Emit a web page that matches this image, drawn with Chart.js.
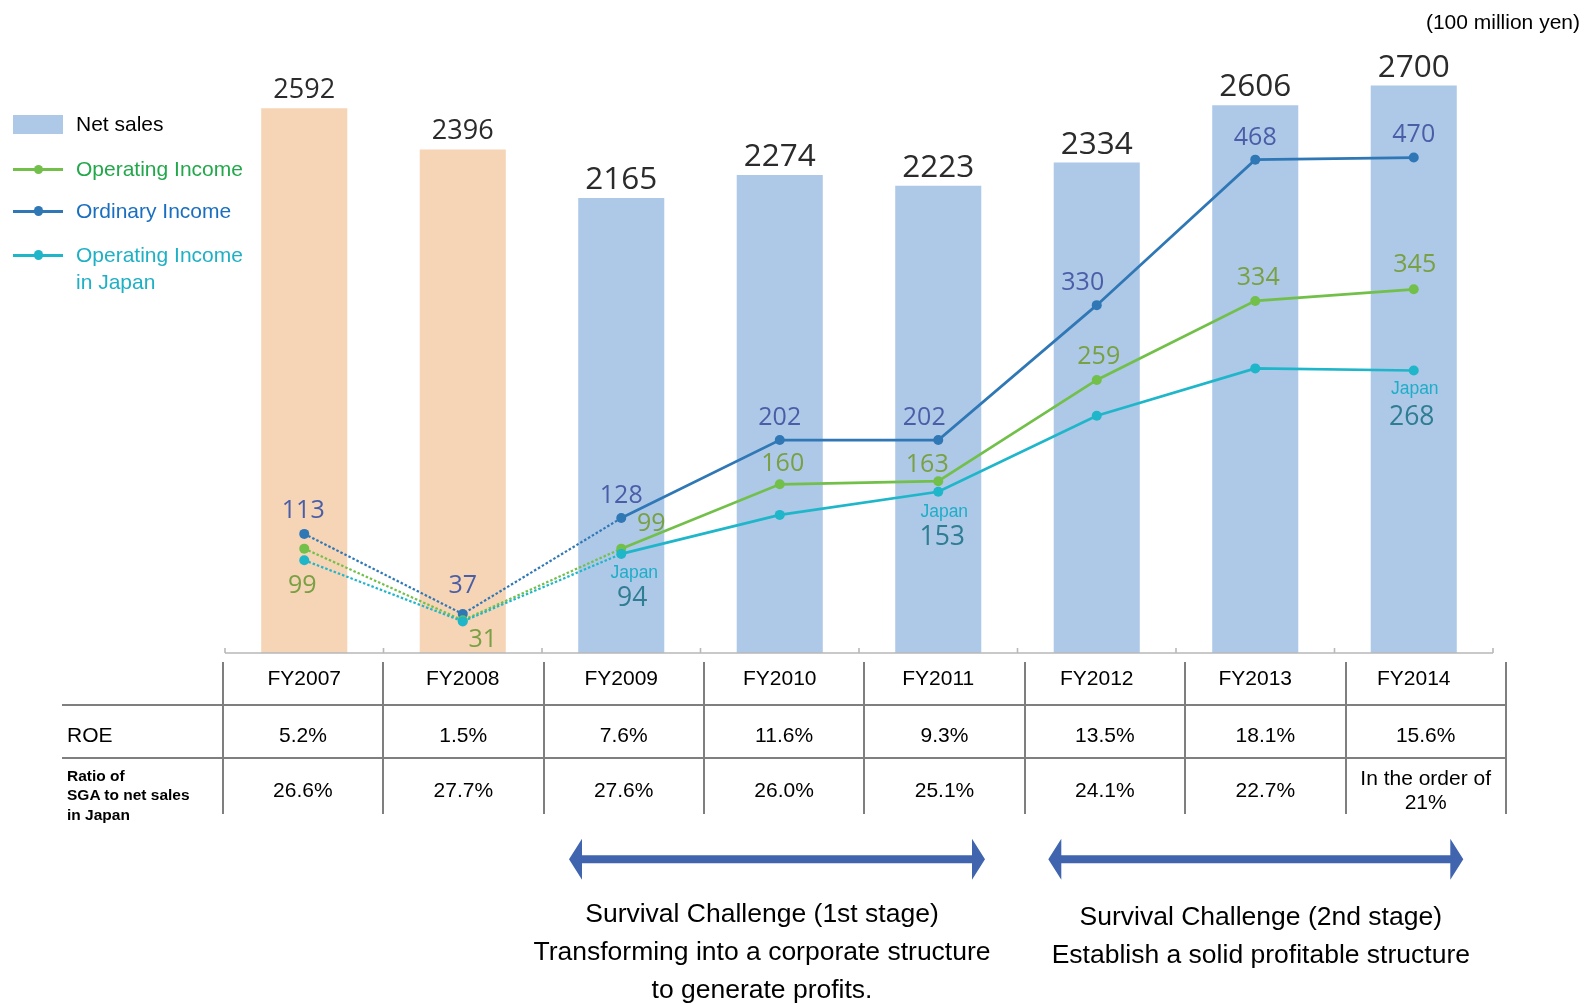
<!DOCTYPE html>
<html>
<head>
<meta charset="utf-8">
<title>Net sales and income</title>
<script src="https://cdn.jsdelivr.net/npm/chart.js@4.4.1/dist/chart.umd.min.js"></script>
<style>
  body { margin: 0; background: #fff; }
  #wrap { position: relative; width: 1585px; height: 1004px; overflow: hidden; font-family: "Liberation Sans", Arial, sans-serif; }
  #chart { position: absolute; left: 0; top: 0; }
  .txt { position: absolute; white-space: nowrap; line-height: 1; }
</style>
</head>
<body>
<div id="wrap">
  <canvas id="chart" width="1585" height="1004"></canvas>
  <svg id="arrows" width="1585" height="1004" style="position:absolute;left:0;top:0"></svg>
</div>
<script>
// data (100 million yen)
const years = ['FY2007', 'FY2008', 'FY2009', 'FY2010', 'FY2011', 'FY2012', 'FY2013', 'FY2014'];
const netSales = [2592, 2396, 2165, 2274, 2223, 2334, 2606, 2700];
const operatingIncome = [99, 31, 99, 160, 163, 259, 334, 345];
const ordinaryIncome = [113, 37, 128, 202, 202, 330, 468, 470];
const japanIncome = [88, 30, 94, 131, 153, 225, 270, 268];
const japanLabelled = [2, 4, 7];
const roe = ['5.2%', '1.5%', '7.6%', '11.6%', '9.3%', '13.5%', '18.1%', '15.6%'];
const sgaRatio = ['26.6%', '27.7%', '27.6%', '26.0%', '25.1%', '24.1%', '22.7%', 'In the order of|21%'];

// label offsets from the point, px
const ordOffsets = [[-1, -25], [0, -30], [0, -24], [0, -24], [-14, -24], [-14, -24], [0, -24], [0, -24]];
const opOffsets = [[-2, 35], [20, 18], [30, -27], [3, -22], [-11, -18], [2, -25], [3, -25], [1, -26]];
const japanWordOffsets = { 2: [13, 18], 4: [6, 19], 7: [1, 17] };
const japanValueOffsets = { 2: [11, 43], 4: [4, 44], 7: [-2, 45] };

const colBlue = '#aec8e8', colPeach = '#f6d4b6';
const colOrd = '#2f77b5', colOp = '#72c04a', colJp = '#1fb6c9';

const wrap = document.getElementById('wrap');

function addText(str, x, capY, size, opts = {}) {
    const d = document.createElement('div');
    d.className = 'txt';
    d.textContent = str;
    d.style.fontSize = size + 'px';
    d.style.top = (capY - 0.4885 * size) + 'px';
    d.style.color = opts.color || '#000';
    if (opts.bold) d.style.fontWeight = 'bold';
    if (opts.align === 'center') {
        d.style.left = x + 'px';
        d.style.transform = 'translateX(-50%)';
    } else if (opts.align === 'right') {
        d.style.right = (1585 - x) + 'px';
    } else {
        d.style.left = x + 'px';
    }
    wrap.appendChild(d);
}

function addBox(x, y, w, h, color, radius) {
    const d = document.createElement('div');
    d.style.position = 'absolute';
    d.style.left = x + 'px';
    d.style.top = y + 'px';
    d.style.width = w + 'px';
    d.style.height = h + 'px';
    d.style.background = color;
    if (radius) d.style.borderRadius = radius;
    wrap.appendChild(d);
}

// dotted for the FY2007-FY2009 segments
const dotted = {
    borderDash: ctx => ctx.p1DataIndex <= 2 ? [2.5, 2] : undefined,
    borderWidth: ctx => ctx.p1DataIndex <= 2 ? 2.2 : undefined
};

function lineSet(label, data, color, order) {
    return {
        type: 'line', label: label, data: data, yAxisID: 'y2', order: order,
        borderColor: color, backgroundColor: color, borderWidth: 2.7,
        pointRadius: 5, pointBorderWidth: 0, pointBackgroundColor: color,
        tension: 0, segment: dotted
    };
}

const axisAndLabels = {
    id: 'axisAndLabels',
    afterDatasetsDraw(chart) {
        const ctx = chart.ctx;
        const area = chart.chartArea;
        const x = chart.scales.x;
        const half = (x.getPixelForValue(1) - x.getPixelForValue(0)) / 2;

        // axis line with small upward ticks at category boundaries
        ctx.save();
        ctx.strokeStyle = '#b8b8b8';
        ctx.lineWidth = 1.6;
        ctx.beginPath();
        ctx.moveTo(area.left, area.bottom);
        ctx.lineTo(area.right, area.bottom);
        for (let i = 0; i <= years.length; i++) {
            const px = x.getPixelForValue(i) - half;
            ctx.moveTo(px, area.bottom);
            ctx.lineTo(px, area.bottom - 5);
        }
        ctx.stroke();

        ctx.textAlign = 'center';
        ctx.textBaseline = 'alphabetic';
        const put = (txt, px, capY, font, size, color) => {
            ctx.font = size + 'px ' + font;
            ctx.fillStyle = color;
            ctx.fillText(txt, px, capY + 0.357 * size);
        };

        const bars = chart.getDatasetMeta(3).data;
        bars.forEach((b, i) => {
            put(String(netSales[i]), b.x, b.y - 20, '"Open Sans"', i < 2 ? 27 : 31.5, '#2b2b2b');
        });

        const ord = chart.getDatasetMeta(2).data;
        ord.forEach((p, i) => {
            put(String(ordinaryIncome[i]), p.x + ordOffsets[i][0], p.y + ordOffsets[i][1], '"Open Sans"', 25, '#4a5ea8');
        });

        const op = chart.getDatasetMeta(1).data;
        op.forEach((p, i) => {
            put(String(operatingIncome[i]), p.x + opOffsets[i][0], p.y + opOffsets[i][1], '"Open Sans"', 25, '#79a043');
        });

        const jp = chart.getDatasetMeta(0).data;
        japanLabelled.forEach(i => {
            const p = jp[i];
            ctx.font = '17.5px "Liberation Sans", Arial';
            ctx.fillStyle = '#1eaec8';
            ctx.fillText('Japan', p.x + japanWordOffsets[i][0], p.y + japanWordOffsets[i][1] + 0.36 * 17.5);
            put(String(japanIncome[i]), p.x + japanValueOffsets[i][0], p.y + japanValueOffsets[i][1], '"Open Sans"', 26.5, '#2f7d92');
        });
        ctx.restore();
    }
};

const chart = new Chart(document.getElementById('chart'), {
    data: {
        labels: years,
        datasets: [
            lineSet('Operating Income in Japan', japanIncome, colJp, 1),
            lineSet('Operating Income', operatingIncome, colOp, 2),
            lineSet('Ordinary Income', ordinaryIncome, colOrd, 3),
            {
                type: 'bar', label: 'Net sales', data: netSales, order: 10,
                backgroundColor: netSales.map((v, i) => i < 2 ? colPeach : colBlue),
                barPercentage: 0.543, categoryPercentage: 1
            }
        ]
    },
    options: {
        responsive: false,
        animation: false,
        devicePixelRatio: 1,
        layout: { padding: { left: 225, right: 92, top: 30, bottom: 351 } },
        plugins: { legend: { display: false }, tooltip: { enabled: false } },
        scales: {
            x: { display: false, offset: true },
            y: { display: false, min: 0, max: 2964 },
            y2: { display: false, min: 0, max: 591, position: 'right' }
        }
    },
    plugins: [axisAndLabels]
});

// unit
addText('(100 million yen)', 1580, 21, 21, { align: 'right' });

// legend
addBox(13, 115, 50, 18.5, colBlue);
addText('Net sales', 76, 123.5, 21);
const legendLines = [
    [169.3, colOp, '#22a84a', ['Operating Income']],
    [211, colOrd, '#1a6ec0', ['Ordinary Income']],
    [255, colJp, '#1eb0c4', ['Operating Income', 'in Japan']]
];
legendLines.forEach(([y, lc, tc, lines]) => {
    addBox(12.7, y - 1.5, 50.6, 3, lc);
    addBox(38.3 - 4.6, y - 4.6, 9.2, 9.2, lc, '50%');
    lines.forEach((t, k) => addText(t, 76, y - 1 + k * 27, 21, { color: tc }));
});

// table
const tableLeft = 222.7, colW = 160.4;
const ruleColor = '#7f7f7f';
for (let i = 0; i <= years.length; i++) {
    addBox(tableLeft + i * colW - 1, 662, 2, 151.5, ruleColor);
}
addBox(62, 704, tableLeft + years.length * colW - 62, 2, ruleColor);
addBox(62, 757.3, tableLeft + years.length * colW - 62, 2, ruleColor);

years.forEach((yr, i) => {
    addText(yr, chart.scales.x.getPixelForValue(i), 677.3, 21, { align: 'center' });
    const cx = tableLeft + (i + 0.5) * colW;
    addText(roe[i], cx, 734.5, 21, { align: 'center' });
    const parts = sgaRatio[i].split('|');
    if (parts.length === 1) {
        addText(parts[0], cx, 789, 21, { align: 'center' });
    } else {
        addText(parts[0], cx, 777, 21, { align: 'center' });
        addText(parts[1], cx, 801, 21, { align: 'center' });
    }
});
addText('ROE', 67, 734.5, 21);
['Ratio of', 'SGA to net sales', 'in Japan'].forEach((t, k) => {
    addText(t, 67, 775.3 + k * 19.7, 15.5, { bold: true });
});

// stage arrows
const svg = document.getElementById('arrows');
function arrow(x1, x2, c) {
    const h = 13, hh = 20.5, s = 4;
    const pts = [
        [x1, c], [x1 + h, c - hh], [x1 + h, c - s], [x2 - h, c - s], [x2 - h, c - hh],
        [x2, c], [x2 - h, c + hh], [x2 - h, c + s], [x1 + h, c + s], [x1 + h, c + hh]
    ];
    const poly = document.createElementNS('http://www.w3.org/2000/svg', 'polygon');
    poly.setAttribute('points', pts.map(p => p.join(',')).join(' '));
    poly.setAttribute('fill', '#4065ae');
    svg.appendChild(poly);
}
arrow(569, 985, 859.3);
arrow(1048.3, 1463.3, 859.3);

// stage captions
['Survival Challenge (1st stage)', 'Transforming into a corporate structure', 'to generate profits.']
    .forEach((t, k) => addText(t, 762, 913 + k * 38, 26.5, { align: 'center' }));
['Survival Challenge (2nd stage)', 'Establish a solid profitable structure']
    .forEach((t, k) => addText(t, 1260.8, 915.5 + k * 38, 26.5, { align: 'center' }));
</script>
</body>
</html>
